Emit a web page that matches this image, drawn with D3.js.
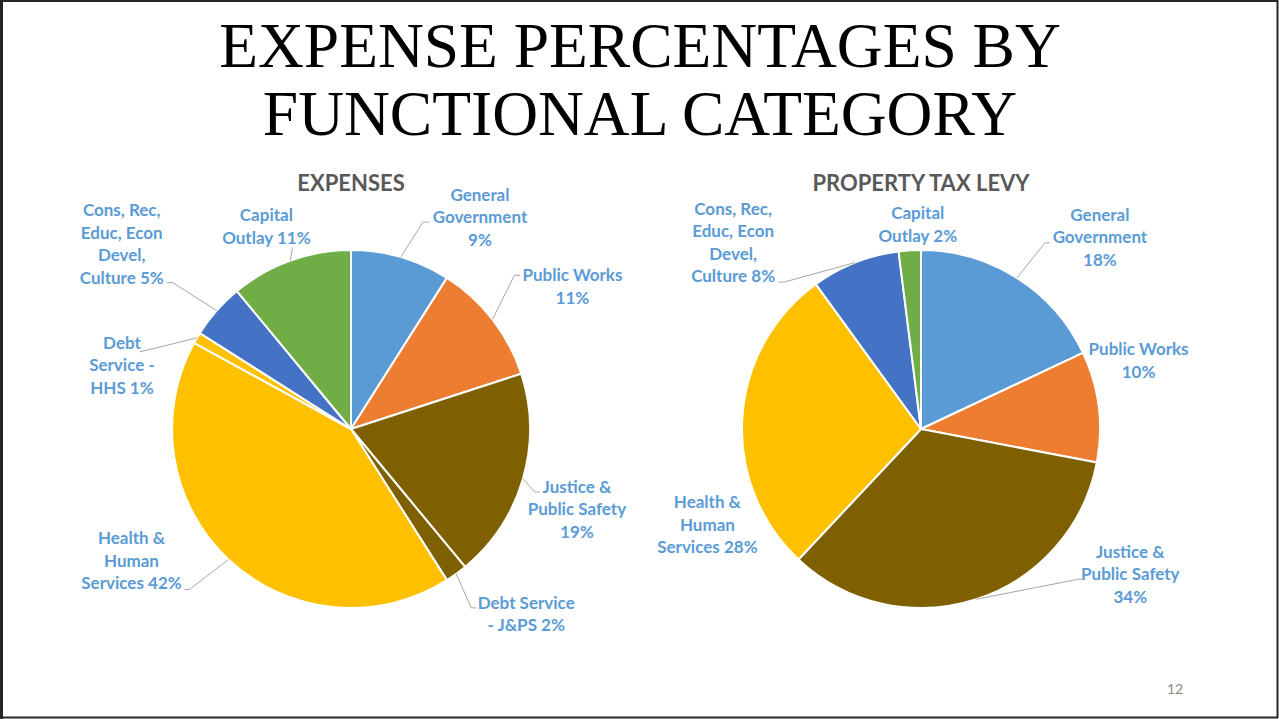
<!DOCTYPE html>
<html>
<head>
<meta charset="utf-8">
<script src="https://cdn.jsdelivr.net/npm/d3@7"></script>
<style>
  html, body { margin: 0; padding: 0; background: #fff; }
  svg { display: block; }
</style>
</head>
<body>
<div id="chart"></div>
<script>
// EXPENSES PIE (clockwise from 12 o'clock)
var expenseCategories = ["General Government", "Public Works", "Justice & Public Safety", "Debt Service - J&PS",
	"Health & Human Services", "Debt Service - HHS", "Cons, Rec, Educ, Econ Devel, Culture", "Capital Outlay"];
var expenseValues = [9, 11, 19, 2, 42, 1, 5, 11];
var expenseLabels = [
	["General", "Government", "9%"],
	["Public Works", "11%"],
	["Justice &", "Public Safety", "19%"],
	["Debt Service", "- J&PS 2%"],
	["Health &", "Human", "Services 42%"],
	["Debt", "Service -", "HHS 1%"],
	["Cons, Rec,", "Educ, Econ", "Devel,", "Culture 5%"],
	["Capital", "Outlay 11%"]
];

// PROPERTY TAX LEVY PIE
var levyCategories = ["General Government", "Public Works", "Justice & Public Safety",
	"Health & Human Services", "Cons, Rec, Educ, Econ Devel, Culture", "Capital Outlay"];
var levyValues = [18, 10, 34, 28, 8, 2];
var levyLabels = [
	["General", "Government", "18%"],
	["Public Works", "10%"],
	["Justice &", "Public Safety", "34%"],
	["Health &", "Human", "Services 28%"],
	["Cons, Rec,", "Educ, Econ", "Devel,", "Culture 8%"],
	["Capital", "Outlay 2%"]
];

var COLORS = {
	"General Government": "#5B9BD5",
	"Public Works": "#ED7D31",
	"Justice & Public Safety": "#7F6000",
	"Debt Service - J&PS": "#7F6000",
	"Health & Human Services": "#FFC000",
	"Debt Service - HHS": "#FFC000",
	"Cons, Rec, Educ, Econ Devel, Culture": "#4472C4",
	"Capital Outlay": "#70AD47"
};

//LABEL PLACEMENT, OFFSETS FROM THE POINT ON THE RIM AT THE SLICE MIDDLE
//  c = CENTER OF TEXT BLOCK, leader = ELBOW AND END OF LEADER LINE (null = NO LINE)
var expenseLayout = [
	{c: [79, -40], leader: [[22, -35], [28, -35]]},
	{c: [80, -33], leader: [[22, -44], [28, -44]]},
	{c: [54, 30], leader: [[12, 13], [17, 13]]},
	{c: [70, 40], leader: [[15, 34], [20, 34]]},
	{c: [-97, 1], leader: [[-39, 30], [-44, 30]]},
	{c: [-75, 27], leader: [[-57, 14]]},
	{c: [-95, -67], leader: [[-44, -28], [-50, -28]]},
	{c: [-24, -34], leader: [[2, -13]]}
];
var levyLayout = [
	{c: [83, -41], leader: [[28, -35], [33, -35]]},
	{c: [40, -46], leader: null},
	{c: [154, -25], leader: [[102, -20], [106, -20]]},
	{c: [-35, 107], leader: null},
	{c: [-122, -20], leader: [[-71, 19.5], [-77, 19.5]]},
	{c: [8, -26], leader: null}
];

var W = 1279, H = 719;
var RADIUS = 179;
var LABEL_FONT = "Lato, 'Open Sans', sans-serif";
var LINE_HEIGHT = 22.5;

var svg = d3.select("#chart").append("svg")
	.attr("width", W)
	.attr("height", H);

svg.append("rect").attr("width", W).attr("height", H).attr("fill", "#fff");

//SLIDE TITLE
var title = svg.append("text")
	.attr("text-anchor", "middle")
	.style("font-family", "'Liberation Serif', 'Times New Roman', serif")
	.style("font-size", "63.5px")
	.attr("fill", "#000");
title.append("tspan").attr("x", 640).attr("y", 67).text("EXPENSE PERCENTAGES BY");
title.append("tspan").attr("x", 640).attr("y", 135).text("FUNCTIONAL CATEGORY");

function drawPie(cx, cy, name, categories, values, labels, layout){
	var g = svg.append("g").attr("transform", "translate(" + cx + "," + cy + ")");

	var data = categories.map(function(c, i){
		return {category: c, value: values[i], label: labels[i], layout: layout[i]};
	});

	var pie = d3.pie().sort(null).value(function(d){return d.value;});
	var arc = d3.arc().innerRadius(0).outerRadius(RADIUS);
	var arcs = pie(data);

	g.selectAll("path.slice")
		.data(arcs)
		.enter()
		.append("path")
		.attr("class", "slice")
		.attr("d", arc)
		.attr("fill", function(d){return COLORS[d.data.category];})
		.attr("stroke", "#fff")
		.attr("stroke-width", 2)
		.attr("stroke-linejoin", "round");

	//RIM POINT AT THE MIDDLE OF EACH SLICE
	function rim(d){
		var a = (d.startAngle + d.endAngle) / 2;
		return [RADIUS * Math.sin(a), -RADIUS * Math.cos(a)];
	}

	//LEADER LINES
	g.selectAll("path.leader")
		.data(arcs.filter(function(d){return d.data.layout.leader;}))
		.enter()
		.append("path")
		.attr("class", "leader")
		.attr("fill", "none")
		.attr("stroke", "#A6A6A6")
		.attr("stroke-width", 1)
		.attr("d", function(d){
			var p = rim(d);
			var pts = [p].concat(d.data.layout.leader.map(function(o){return [p[0] + o[0], p[1] + o[1]];}));
			return d3.line()(pts);
		});

	//DATA LABELS
	var lbl = g.selectAll("text.label")
		.data(arcs)
		.enter()
		.append("text")
		.attr("class", "label")
		.attr("text-anchor", "middle")
		.style("font-family", LABEL_FONT)
		.style("font-weight", "bold")
		.style("font-size", "17px")
		.attr("fill", "#5B9BD5");

	lbl.each(function(d){
		var p = rim(d);
		var lines = d.data.label;
		var x = p[0] + d.data.layout.c[0];
		var y0 = p[1] + d.data.layout.c[1] - (lines.length - 1) * LINE_HEIGHT / 2;
		var t = d3.select(this);
		lines.forEach(function(line, i){
			t.append("tspan")
				.attr("x", x)
				.attr("y", y0 + i * LINE_HEIGHT)
				.attr("dy", "0.36em")
				.text(line);
		});
	});

	//CHART TITLE
	svg.append("text")
		.attr("x", cx)
		.attr("y", 191)
		.attr("text-anchor", "middle")
		.style("font-family", LABEL_FONT)
		.style("font-weight", "bold")
		.style("font-size", "22px")
		.attr("fill", "#595959")
		.text(name);
}

drawPie(351, 429, "EXPENSES", expenseCategories, expenseValues, expenseLabels, expenseLayout);
drawPie(921, 429, "PROPERTY TAX LEVY", levyCategories, levyValues, levyLabels, levyLayout);

//PAGE NUMBER
svg.append("text")
	.attr("x", 1175)
	.attr("y", 694)
	.attr("text-anchor", "middle")
	.style("font-family", LABEL_FONT)
	.style("font-size", "14px")
	.attr("fill", "#898989")
	.text("12");

//SLIDE BORDER
svg.append("rect")
	.attr("x", 1).attr("y", 1)
	.attr("width", W - 2.5).attr("height", H - 2.5)
	.attr("fill", "none")
	.attr("stroke", "#262626")
	.attr("stroke-width", 2);
svg.append("line")
	.attr("x1", 1.5).attr("x2", 1.5).attr("y1", 0).attr("y2", H)
	.attr("stroke", "#262626").attr("stroke-width", 3);
</script>
</body>
</html>
